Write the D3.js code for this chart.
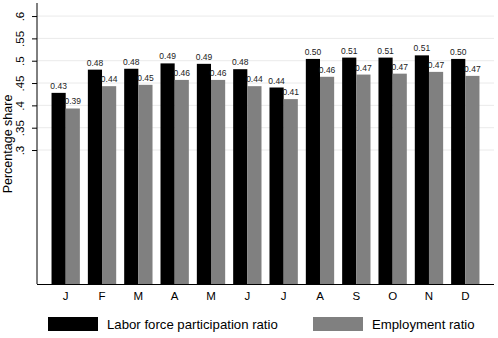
<!DOCTYPE html>
<html>
<head>
<meta charset="utf-8">
<script src="https://cdn.jsdelivr.net/npm/d3@7"></script>
<style>
  body { margin: 0; background: #fff; }
  text { font-family: "Liberation Sans", Arial, sans-serif; }
</style>
</head>
<body>
<div id="chart"></div>
<script>
// Month labels and the two series
const months = ['J', 'F', 'M', 'A', 'M', 'J', 'J', 'A', 'S', 'O', 'N', 'D'];
const laborForce = [0.428, 0.480, 0.482, 0.494, 0.493, 0.481, 0.440, 0.504, 0.507, 0.507, 0.512, 0.504];
const employment = [0.393, 0.443, 0.446, 0.457, 0.457, 0.443, 0.414, 0.464, 0.469, 0.471, 0.475, 0.466];
const yTicks = [0.3, 0.35, 0.4, 0.45, 0.5, 0.55, 0.6];
const seriesNames = ['Labor force participation ratio', 'Employment ratio'];
const seriesColors = ['#000000', '#808080'];

const width = 498, height = 338;
const svg = d3.select('#chart').append('svg')
    .attr('width', width)
    .attr('height', height);

// Scales
const y = d3.scaleLinear().domain([0, 0.627]).range([284, 4]);
const x = d3.scaleBand()
    .domain(d3.range(months.length))
    .range([37, 494])
    .paddingInner(0.22)
    .paddingOuter(0.4);
const xs = d3.scaleBand().domain([0, 1]).range([0, x.bandwidth()]);

// Gridlines
svg.append('g')
    .selectAll('line')
    .data(yTicks)
    .join('line')
    .attr('x1', 37).attr('x2', 494)
    .attr('y1', d => y(d)).attr('y2', d => y(d))
    .attr('stroke', '#eaeaea')
    .attr('stroke-width', 1);

// Bars
const groups = svg.append('g')
    .selectAll('g')
    .data(months.map((m, i) => i))
    .join('g')
    .attr('transform', i => `translate(${x(i)},0)`);

const barData = i => [laborForce[i], employment[i]].map((v, k) => ({ k, v }));

groups.selectAll('rect')
    .data(barData)
    .join('rect')
    .attr('x', d => xs(d.k))
    .attr('width', xs.bandwidth())
    .attr('y', d => y(d.v))
    .attr('height', d => y(0) - y(d.v))
    .attr('fill', d => seriesColors[d.k]);

// Value labels
groups.selectAll('text')
    .data(barData)
    .join('text')
    .attr('x', d => xs(d.k) + xs.bandwidth() / 2)
    .attr('y', d => y(d.v) - 4)
    .attr('text-anchor', 'middle')
    .attr('font-size', 8.5)
    .attr('fill', '#222')
    .text(d => d3.format('.2f')(d.v));

// Y axis
const yAxis = svg.append('g')
    .attr('transform', 'translate(37,0)')
    .call(d3.axisLeft(y).tickValues(yTicks).tickSize(5).tickFormat(d => d3.format('.2f')(d).replace(/^0/, '').replace(/0$/, '')));
yAxis.select('.domain').attr('d', `M0,${y(0)}V3`).attr('stroke', '#000');
yAxis.selectAll('.tick line').attr('stroke', '#000');
yAxis.selectAll('.tick text')
    .attr('font-size', 11.5)
    .attr('fill', '#000')
    .attr('text-anchor', 'middle')
    .attr('x', 0).attr('dy', 0)
    .attr('transform', 'translate(-13,0) rotate(-90)');

// X axis
const xAxis = svg.append('g')
    .attr('transform', `translate(0,${y(0)})`)
    .call(d3.axisBottom(x).tickSize(0).tickFormat(i => months[i]));
xAxis.select('.domain').attr('d', `M37,0.5H494`).attr('stroke', '#000');
xAxis.selectAll('.tick text')
    .attr('font-size', 11.5)
    .attr('fill', '#000')
    .attr('dy', '1.15em');

// Y axis title
svg.append('text')
    .attr('transform', `translate(12,${(y(0) + 4) / 2}) rotate(-90)`)
    .attr('text-anchor', 'middle')
    .attr('font-size', 12.5)
    .text('Percentage share');

// Legend
const legendX = [48, 313];
const legend = svg.append('g')
    .selectAll('g')
    .data(seriesNames)
    .join('g')
    .attr('transform', (d, i) => `translate(${legendX[i]},317)`);
legend.append('rect')
    .attr('width', 50).attr('height', 14)
    .attr('fill', (d, i) => seriesColors[i]);
legend.append('text')
    .attr('x', 59).attr('y', 11.5)
    .attr('font-size', 13.2)
    .text(d => d);
</script>
</body>
</html>
